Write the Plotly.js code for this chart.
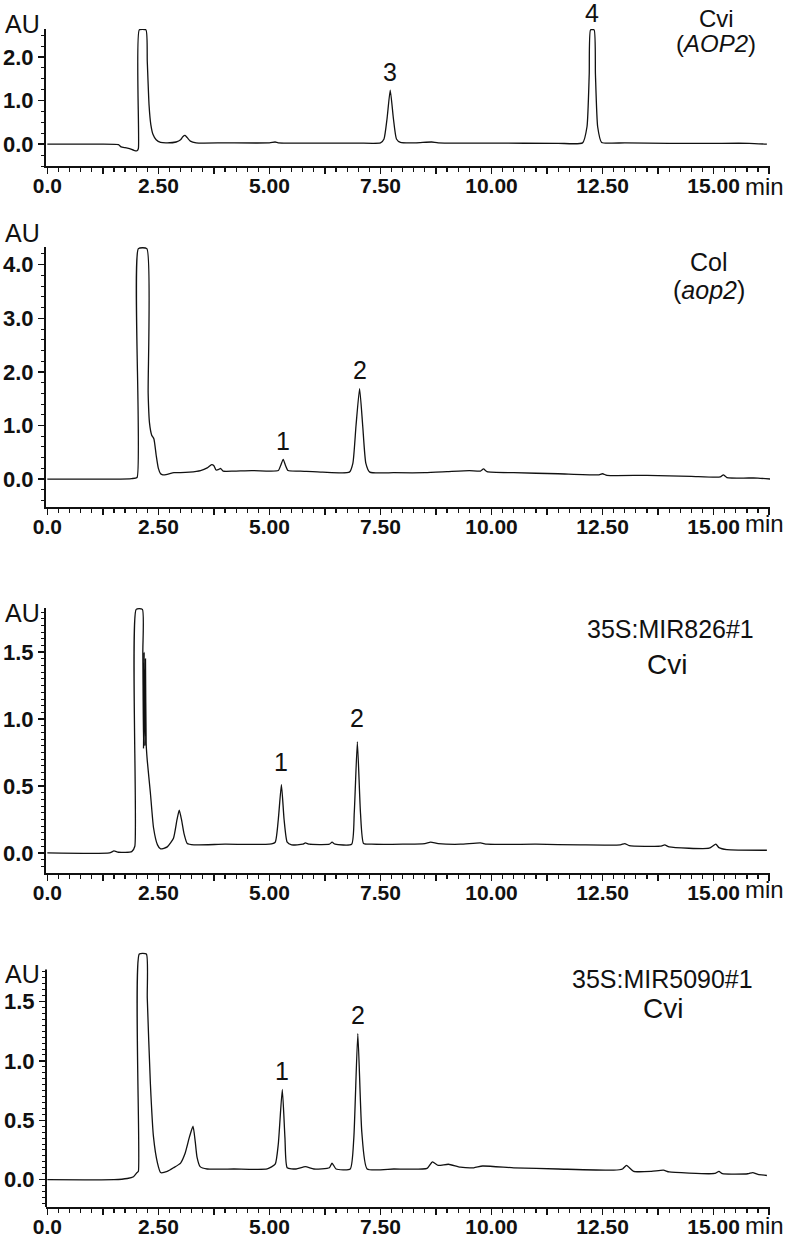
<!DOCTYPE html>
<html>
<head>
<meta charset="utf-8">
<script src="https://cdn.plot.ly/plotly-3.0.1.min.js"></script>
<style>
  html, body { margin: 0; padding: 0; background: #fff; }
  #chart { width: 793px; height: 1243px; }
</style>
</head>
<body>
<div id="chart"></div>
<script>
// retention time (min) and absorbance (AU)

// Cvi (AOP2)
const t1 = [0, 1.0, 1.6, 1.66, 1.75, 1.85, 1.95, 2.02, 2.05, 2.07, 2.22, 2.25, 2.29, 2.33, 2.38, 2.45, 2.55, 2.7, 2.9, 3.0, 3.05, 3.1, 3.15, 3.22, 3.35,
  4.0, 5.0, 5.13, 5.2, 6.0, 7.0, 7.5, 7.58, 7.65, 7.72, 7.79, 7.86, 7.95, 8.3, 8.65, 8.8, 10.0, 11.5,
  12.05, 12.15, 12.2, 12.23, 12.31, 12.34, 12.39, 12.48, 12.7, 13.0, 14.0, 15.0, 15.8, 16.2];
const au1 = [0, 0, -0.01, -0.06, -0.08, -0.1, -0.14, -0.15, -0.1, 2.62, 2.62, 1.9, 0.9, 0.45, 0.22, 0.1, 0.04, 0.03, 0.05, 0.1, 0.17, 0.2, 0.15, 0.07, 0.03,
  0.03, 0.03, 0.05, 0.03, 0.025, 0.025, 0.03, 0.12, 0.6, 1.24, 0.6, 0.12, 0.04, 0.03, 0.05, 0.03, 0.025, 0.02,
  0.03, 0.4, 1.6, 2.62, 2.62, 1.6, 0.4, 0.04, 0.025, 0.03, 0.02, 0.02, 0.02, 0.0];

// Col (aop2)
const t2 = [0, 1.5, 1.9, 2.02, 2.05, 2.24, 2.27, 2.3, 2.35, 2.4, 2.45, 2.5, 2.55, 2.6, 2.7, 2.85, 3.0, 3.2, 3.45, 3.6, 3.7, 3.75, 3.8, 3.86, 3.9, 3.96,
  4.2, 4.6, 5.0, 5.2, 5.26, 5.31, 5.36, 5.42, 5.7, 6.2, 6.8, 6.88, 6.95, 7.03, 7.1, 7.17, 7.26, 7.8, 8.5, 9.0, 9.5, 9.75, 9.82, 9.9,
  10.5, 11.5, 12.4, 12.5, 12.6, 13.5, 14.5, 15.15, 15.22, 15.3, 16.0, 16.3];
const au2 = [0, 0, 0.01, 0.03, 4.3, 4.3, 1.6, 1.05, 0.82, 0.75, 0.45, 0.2, 0.1, 0.08, 0.09, 0.12, 0.12, 0.13, 0.16, 0.21, 0.27, 0.25, 0.17, 0.18, 0.2, 0.15,
  0.15, 0.16, 0.15, 0.16, 0.27, 0.37, 0.26, 0.16, 0.15, 0.13, 0.13, 0.3, 1.0, 1.69, 1.0, 0.3, 0.13, 0.12, 0.12, 0.14, 0.16, 0.15, 0.19, 0.14,
  0.12, 0.1, 0.08, 0.1, 0.07, 0.07, 0.05, 0.04, 0.08, 0.03, 0.02, 0.0];

// 35S:MIR826#1 Cvi
const t3 = [0, 1.4, 1.5, 1.6, 1.9, 1.97, 2.0, 2.14, 2.15, 2.165, 2.18, 2.195, 2.21, 2.225, 2.25, 2.32, 2.39, 2.48, 2.55, 2.7, 2.84, 2.92, 2.97, 3.02, 3.08, 3.15, 3.3,
  4.0, 5.0, 5.13, 5.2, 5.27, 5.33, 5.4, 5.5, 5.75, 5.81, 5.9, 6.35, 6.41, 6.48, 6.85, 6.91, 6.98, 7.05, 7.12, 7.3,
  8.0, 8.5, 8.63, 8.8, 9.3, 9.75, 9.9, 11.0, 12.0, 12.9, 13.0, 13.1, 13.8, 13.9, 14.0, 14.9, 15.05, 15.12, 15.3, 16.2];
const au3 = [0, 0, 0.015, 0.005, 0.01, 0.05, 1.82, 1.82, 1.5, 0.78, 1.5, 0.8, 1.45, 0.82, 0.69, 0.45, 0.19, 0.06, 0.03, 0.045, 0.11, 0.25, 0.32, 0.25, 0.14, 0.07, 0.06,
  0.065, 0.065, 0.08, 0.25, 0.51, 0.25, 0.08, 0.06, 0.065, 0.075, 0.065, 0.065, 0.08, 0.065, 0.065, 0.3, 0.83, 0.3, 0.07, 0.065,
  0.065, 0.07, 0.08, 0.07, 0.065, 0.075, 0.065, 0.065, 0.06, 0.06, 0.07, 0.055, 0.05, 0.06, 0.045, 0.035, 0.065, 0.04, 0.025, 0.02];

// 35S:MIR5090#1 Cvi
const t4 = [0, 1.5, 1.8, 1.94, 2.02, 2.05, 2.07, 2.23, 2.25, 2.32, 2.39, 2.48, 2.55, 2.7, 2.84, 3.0, 3.1, 3.2, 3.28, 3.33, 3.37, 3.44, 3.6,
  4.2, 4.95, 5.13, 5.2, 5.29, 5.35, 5.4, 5.6, 5.81, 6.0, 6.35, 6.41, 6.5, 6.82, 6.9, 6.99, 7.08, 7.2, 7.8,
  8.55, 8.67, 8.8, 9.03, 9.3, 9.6, 9.8, 10.5, 11.5, 12.75, 12.95, 13.04, 13.2, 13.6, 13.87, 14.0, 14.9, 15.05, 15.12, 15.2, 15.77, 15.88, 16.0, 16.2];
const au4 = [0, 0, 0.01, 0.025, 0.06, 0.07, 1.9, 1.9, 1.53, 0.81, 0.36, 0.14, 0.06, 0.07, 0.1, 0.14, 0.22, 0.36, 0.45, 0.32, 0.19, 0.11, 0.09,
  0.09, 0.09, 0.13, 0.3, 0.76, 0.35, 0.1, 0.09, 0.11, 0.09, 0.1, 0.14, 0.09, 0.09, 0.35, 1.23, 0.4, 0.09, 0.09,
  0.095, 0.15, 0.12, 0.13, 0.105, 0.1, 0.115, 0.1, 0.09, 0.08, 0.09, 0.12, 0.07, 0.07, 0.08, 0.065, 0.05, 0.055, 0.07, 0.05, 0.05, 0.06, 0.045, 0.035];

// x axis ticks (min)
const xTickVals = [0, 1.25, 2.5, 3.75, 5, 6.25, 7.5, 8.75, 10, 11.25, 12.5, 13.75, 15, 16.25];
const xTickText = ['0.0', '', '2.50', '', '5.00', '', '7.50', '', '10.00', '', '12.50', '', '15.00', ''];

// sample labels and numbered peaks
const sampleTop = ['Cvi', 'Col', '35S:MIR826#1', '35S:MIR5090#1'];
const sampleBottom = ['(<i>AOP2</i>)', '(<i>aop2</i>)', 'Cvi', 'Cvi'];
const peakLabels = [['3', '4'], ['1', '2'], ['1', '2'], ['1', '2']];
const peakTimes = [[7.72, 12.27], [5.31, 7.03], [5.27, 6.98], [5.29, 6.99]];

const W = 793, H = 1243;
const px = v => v / W;
const py = v => 1 - v / H;
const FONT = 'Liberation Sans, Arial, sans-serif';

// plot boxes in pixels: [top, bottom] of each panel
const panels = [
  { top: 29, bottom: 166, range: [-0.5, 2.64], ticks: [0, 1, 2], tickText: ['0.0', '1.0', '2.0'], minor: 0.25 },
  { top: 247, bottom: 507, range: [-0.52, 4.33], ticks: [0, 1, 2, 3, 4], tickText: ['0.0', '1.0', '2.0', '3.0', '4.0'], minor: 0.2 },
  { top: 608, bottom: 873, range: [-0.15, 1.83], ticks: [0, 0.5, 1, 1.5], tickText: ['0.0', '0.5', '1.0', '1.5'], minor: 0.05 },
  { top: 951, bottom: 1207, range: [-0.23, 1.925], ticks: [0, 0.5, 1, 1.5], tickText: ['0.0', '0.5', '1.0', '1.5'], minor: 0.05 }
];

// label positions in pixels
const labelPos = [
  { top: [716, 18], bottom: [716, 43], topSize: 24, bottomSize: 24, au: 24, min: 186, peaks: [72, 13] },
  { top: [709, 262], bottom: [709, 290], topSize: 25, bottomSize: 25, au: 233, min: 523, peaks: [441, 370] },
  { top: [670, 629], bottom: [667, 664], topSize: 25, bottomSize: 28, au: 613, min: 889, peaks: [762, 718] },
  { top: [662, 979], bottom: [663, 1008], topSize: 25, bottomSize: 28, au: 974, min: 1225, peaks: [1071, 1015] }
];

const times = [t1, t2, t3, t4];
const values = [au1, au2, au3, au4];

const data = times.map((t, i) => ({
  x: t,
  y: values[i],
  xaxis: i === 0 ? 'x' : 'x' + (i + 1),
  yaxis: i === 0 ? 'y' : 'y' + (i + 1),
  type: 'scatter',
  mode: 'lines',
  line: { color: '#111', width: 1.3, shape: 'spline', smoothing: 0.5 },
  hoverinfo: 'skip'
}));

const layout = {
  width: W,
  height: H,
  margin: { l: 0, r: 0, t: 0, b: 0 },
  paper_bgcolor: '#fff',
  plot_bgcolor: '#fff',
  showlegend: false,
  font: { family: FONT, color: '#111' },
  annotations: [],
  shapes: []
};

panels.forEach((p, i) => {
  const n = i === 0 ? '' : String(i + 1);
  const yMinor = [];
  for (let v = Math.ceil(p.range[0] / p.minor) * p.minor; v <= p.range[1] + 1e-9; v += p.minor) {
    if (i === 3 && v > 1.77) break;
    yMinor.push(+v.toFixed(3));
  }
  layout['xaxis' + n] = {
    domain: [px(46), px(770)],
    range: [-0.03, 16.27],
    anchor: 'y' + n,
    showline: true, linecolor: '#111', linewidth: 2,
    showgrid: false, zeroline: false,
    ticks: 'outside', ticklen: 6, tickwidth: 1.5, tickcolor: '#111',
    tickmode: 'array', tickvals: xTickVals, ticktext: xTickText,
    minor: { dtick: 0.25, tick0: 0, ticks: 'outside', ticklen: 4, tickwidth: 1.2, tickcolor: '#111' },
    tickfont: { family: FONT, size: 21, weight: 'bold', color: '#111' },
    ticklabelstandoff: -6,
    fixedrange: true
  };
  layout['yaxis' + n] = {
    domain: [py(p.bottom), py(p.top)],
    range: p.range,
    anchor: 'x' + n,
    showline: i !== 3, linecolor: '#111', linewidth: 2,
    showgrid: false, zeroline: false,
    ticks: 'outside', ticklen: 6, tickwidth: 1.5, tickcolor: '#111',
    tickmode: 'array', tickvals: p.ticks, ticktext: p.tickText,
    minor: { tickmode: 'array', tickvals: yMinor, ticks: 'outside', ticklen: 3, tickwidth: 1, tickcolor: '#111' },
    tickfont: { family: FONT, size: 22, weight: 'bold', color: '#111' },
    fixedrange: true
  };

  // the last panel's first peak runs above the axis, so its axis line is drawn short
  if (i === 3) {
    layout.shapes.push({
      type: 'line', xref: 'x4 domain', yref: 'y4',
      x0: 0, x1: 0, y0: p.range[0], y1: 1.77,
      line: { color: '#111', width: 2 }
    });
  }

  const lp = labelPos[i];
  layout.annotations.push(
    { text: sampleTop[i], xref: 'paper', yref: 'paper', x: px(lp.top[0]), y: py(lp.top[1]),
      xanchor: 'center', yanchor: 'middle', showarrow: false, font: { family: FONT, size: lp.topSize, color: '#111' } },
    { text: sampleBottom[i], xref: 'paper', yref: 'paper', x: px(lp.bottom[0]), y: py(lp.bottom[1]),
      xanchor: 'center', yanchor: 'middle', showarrow: false, font: { family: FONT, size: lp.bottomSize, color: '#111' } },
    { text: 'AU', xref: 'paper', yref: 'paper', x: px(3), y: py(lp.au),
      xanchor: 'left', yanchor: 'middle', showarrow: false, font: { family: FONT, size: 25, color: '#111' } },
    { text: 'min', xref: 'paper', yref: 'paper', x: px(743), y: py(lp.min),
      xanchor: 'left', yanchor: 'middle', showarrow: false, font: { family: FONT, size: 24, color: '#111' } }
  );
  peakLabels[i].forEach((lab, k) => {
    layout.annotations.push({
      text: lab, xref: 'x' + n, yref: 'paper', x: peakTimes[i][k], y: py(lp.peaks[k]),
      xanchor: 'center', yanchor: 'middle', showarrow: false, font: { family: FONT, size: 25, color: '#111' }
    });
  });
});

Plotly.newPlot('chart', data, layout, { staticPlot: true, displayModeBar: false });
</script>
</body>
</html>
